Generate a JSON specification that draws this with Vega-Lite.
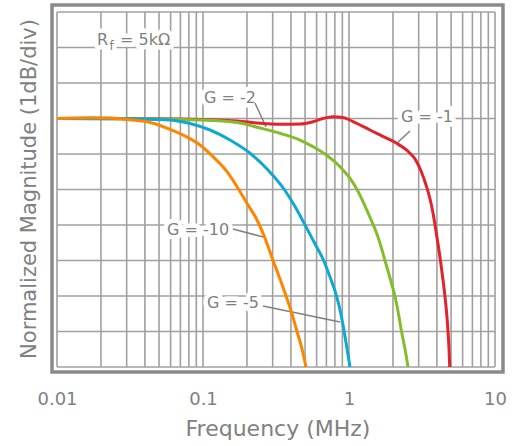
{
  "$schema": "https://vega.github.io/schema/vega-lite/v6.json",
  "width": 451,
  "height": 367,
  "autosize": {"type": "none"},
  "padding": {"left": 52, "top": 5, "right": 11, "bottom": 74},
  "background": "white",
  "config": {
    "view": {"stroke": "#8a8a8a", "strokeWidth": 3.5},
    "font": "DejaVu Sans",
    "axis": {"labelFont": "DejaVu Sans", "titleFont": "DejaVu Sans", "labelColor": "#808080", "titleColor": "#808080", "titleFontWeight": "normal", "grid": false, "ticks": false, "domain": false}
  },
  "datasets": {
    "vgrid": [{"f":0.01},{"f":0.02},{"f":0.03},{"f":0.04},{"f":0.05},{"f":0.06},{"f":0.07},{"f":0.08},{"f":0.09},{"f":0.1},{"f":0.2},{"f":0.3},{"f":0.4},{"f":0.5},{"f":0.6},{"f":0.7},{"f":0.8},{"f":0.9},{"f":1},{"f":2},{"f":3},{"f":4},{"f":5},{"f":6},{"f":7},{"f":8},{"f":9},{"f":10}],
    "hgrid": [{"db":-7},{"db":-6},{"db":-5},{"db":-4},{"db":-3},{"db":-2},{"db":-1},{"db":0},{"db":1},{"db":2},{"db":3}],
    "g1": [{"f":0.01,"db":0},{"f":0.04335,"db":-0.008},{"f":0.09539,"db":-0.028},{"f":0.1709,"db":-0.07},{"f":0.2457,"db":-0.135},{"f":0.3369,"db":-0.163},{"f":0.4619,"db":-0.155},{"f":0.5666,"db":-0.09},{"f":0.6636,"db":0},{"f":0.7768,"db":0.051},{"f":0.9097,"db":0.028},{"f":1.065,"db":-0.085},{"f":1.393,"db":-0.324},{"f":1.821,"db":-0.558},{"f":2.132,"db":-0.704},{"f":2.496,"db":-0.901},{"f":2.832,"db":-1.141},{"f":3.113,"db":-1.479},{"f":3.368,"db":-1.873},{"f":3.588,"db":-2.268},{"f":3.76,"db":-2.662},{"f":3.912,"db":-3.085},{"f":4.071,"db":-3.535},{"f":4.234,"db":-4.014},{"f":4.404,"db":-4.549},{"f":4.545,"db":-5.028},{"f":4.669,"db":-5.507},{"f":4.765,"db":-6.0},{"f":4.841,"db":-6.493},{"f":4.894,"db":-7.0}],
    "g2": [{"f":0.01,"db":0},{"f":0.04335,"db":-0.014},{"f":0.09539,"db":-0.042},{"f":0.1709,"db":-0.113},{"f":0.2457,"db":-0.268},{"f":0.3369,"db":-0.417},{"f":0.4619,"db":-0.606},{"f":0.5666,"db":-0.794},{"f":0.6849,"db":-1.0},{"f":0.868,"db":-1.358},{"f":1.016,"db":-1.69},{"f":1.134,"db":-2.0},{"f":1.287,"db":-2.465},{"f":1.437,"db":-2.915},{"f":1.58,"db":-3.338},{"f":1.764,"db":-4.0},{"f":1.909,"db":-4.493},{"f":2.066,"db":-5.014},{"f":2.183,"db":-5.507},{"f":2.289,"db":-6.0},{"f":2.418,"db":-6.493},{"f":2.536,"db":-7.0}],
    "g5": [{"f":0.01,"db":0},{"f":0.0197,"db":0.006},{"f":0.03162,"db":-0.006},{"f":0.04335,"db":-0.023},{"f":0.05943,"db":-0.042},{"f":0.08147,"db":-0.141},{"f":0.1117,"db":-0.324},{"f":0.1531,"db":-0.606},{"f":0.2132,"db":-1.0},{"f":0.2788,"db":-1.451},{"f":0.3644,"db":-2.028},{"f":0.4267,"db":-2.479},{"f":0.4918,"db":-2.944},{"f":0.5757,"db":-3.479},{"f":0.6699,"db":-4.0},{"f":0.7413,"db":-4.465},{"f":0.8211,"db":-5.0},{"f":0.868,"db":-5.394},{"f":0.9142,"db":-5.865},{"f":0.9643,"db":-6.428},{"f":1.016,"db":-7.0}],
    "g10": [{"f":0.01,"db":0},{"f":0.01683,"db":0.02},{"f":0.02307,"db":0.014},{"f":0.03162,"db":-0.037},{"f":0.04335,"db":-0.113},{"f":0.05943,"db":-0.304},{"f":0.07295,"db":-0.465},{"f":0.09539,"db":-0.746},{"f":0.1171,"db":-1.076},{"f":0.1461,"db":-1.499},{"f":0.1709,"db":-1.921},{"f":0.2001,"db":-2.389},{"f":0.2344,"db":-2.859},{"f":0.2659,"db":-3.375},{"f":0.3017,"db":-4.0},{"f":0.3369,"db":-4.521},{"f":0.3703,"db":-5.0},{"f":0.4071,"db":-5.507},{"f":0.4404,"db":-6.0},{"f":0.4767,"db":-6.493},{"f":0.5075,"db":-7.0}],
    "labels": [{"t":"R","f":0.01879,"db":2.211},{"t":"= 5kΩ","f":0.02701,"db":2.211},{"t":"G = -2","f":0.1016,"db":0.577},{"t":"G = -1","f":2.271,"db":0.042},{"t":"G = -10","f":0.05667,"db":-3.141},{"t":"G = -5","f":0.1065,"db":-5.197}],
    "subs": [{"t":"f","f":0.02289,"db":2.042}],
    "leaders": [{"f":0.2271,"db":0.437,"f2":0.27,"db2":-0.239},{"f":2.617,"db":-0.352,"f2":2.132,"db2":-0.69},{"f":0.1605,"db":-3.113,"f2":0.2576,"db2":-3.338},{"f":0.2576,"db":-5.282,"f2":0.868,"db2":-5.732}]
  },
  "layer": [
    {
      "data": {"name": "vgrid"},
      "mark": {"type": "rule", "color": "#a0a0a0", "strokeWidth": 1.6},
      "encoding": {
        "x": {"field": "f", "type": "quantitative", "scale": {"type": "log", "domain": [0.009242, 11.34], "nice": false, "zero": false},
              "axis": {"values": [0.01, 0.1, 1, 10], "format": "~g", "labelFontSize": 18, "labelPadding": 18, "labelFlush": false, "labelOverlap": false, "title": "Frequency (MHz)", "titleFontSize": 22, "titlePadding": 10}},
        "y": {"datum": -7, "type": "quantitative", "scale": {"domain": [-7.141, 3.197], "nice": false, "zero": false},
              "axis": {"labels": false, "title": "Normalized Magnitude (1dB/div)", "titleFontSize": 21, "titlePadding": 13}},
        "y2": {"datum": 3}
      }
    },
    {
      "data": {"name": "hgrid"},
      "mark": {"type": "rule", "color": "#a0a0a0", "strokeWidth": 1.6},
      "encoding": {
        "y": {"field": "db", "type": "quantitative", "scale": {"domain": [-7.141, 3.197], "nice": false, "zero": false},
              "axis": {"labels": false, "title": "Normalized Magnitude (1dB/div)", "titleFontSize": 21, "titlePadding": 13}},
        "x": {"datum": 0.01, "type": "quantitative", "scale": {"type": "log", "domain": [0.009242, 11.34], "nice": false, "zero": false},
              "axis": {"values": [0.01, 0.1, 1, 10], "format": "~g", "labelFontSize": 18, "labelPadding": 18, "labelFlush": false, "labelOverlap": false, "title": "Frequency (MHz)", "titleFontSize": 22, "titlePadding": 10}},
        "x2": {"datum": 10}
      }
    },
    {
      "data": {"name": "labels"},
      "mark": {"type": "text", "align": "left", "baseline": "middle", "fontSize": 16, "font": "DejaVu Sans", "fill": "white", "stroke": "white", "strokeWidth": 9, "strokeJoin": "round"},
      "encoding": {
        "x": {"field": "f", "type": "quantitative", "title": "Frequency (MHz)"},
        "y": {"field": "db", "type": "quantitative", "title": "Normalized Magnitude (1dB/div)"},
        "text": {"field": "t"}
      }
    },
    {
      "data": {"name": "subs"},
      "mark": {"type": "text", "align": "left", "baseline": "middle", "fontSize": 12, "font": "DejaVu Sans", "fill": "white", "stroke": "white", "strokeWidth": 9, "strokeJoin": "round"},
      "encoding": {
        "x": {"field": "f", "type": "quantitative", "title": "Frequency (MHz)"},
        "y": {"field": "db", "type": "quantitative", "title": "Normalized Magnitude (1dB/div)"},
        "text": {"field": "t"}
      }
    },
    {
      "data": {"name": "leaders"},
      "mark": {"type": "rule", "color": "#808080", "strokeWidth": 1.5},
      "encoding": {
        "x": {"field": "f", "type": "quantitative", "title": "Frequency (MHz)"},
        "y": {"field": "db", "type": "quantitative", "title": "Normalized Magnitude (1dB/div)"},
        "x2": {"field": "f2"},
        "y2": {"field": "db2"}
      }
    },
    {
      "data": {"name": "g1"},
      "mark": {"type": "line", "color": "#e2232b", "strokeWidth": 3, "interpolate": "monotone"},
      "encoding": {
        "x": {"field": "f", "type": "quantitative", "title": "Frequency (MHz)"},
        "y": {"field": "db", "type": "quantitative", "title": "Normalized Magnitude (1dB/div)"}
      }
    },
    {
      "data": {"name": "g2"},
      "mark": {"type": "line", "color": "#84bd2c", "strokeWidth": 3, "interpolate": "monotone"},
      "encoding": {
        "x": {"field": "f", "type": "quantitative", "title": "Frequency (MHz)"},
        "y": {"field": "db", "type": "quantitative", "title": "Normalized Magnitude (1dB/div)"}
      }
    },
    {
      "data": {"name": "g5"},
      "mark": {"type": "line", "color": "#0fa8d2", "strokeWidth": 3, "interpolate": "monotone"},
      "encoding": {
        "x": {"field": "f", "type": "quantitative", "title": "Frequency (MHz)"},
        "y": {"field": "db", "type": "quantitative", "title": "Normalized Magnitude (1dB/div)"}
      }
    },
    {
      "data": {"name": "g10"},
      "mark": {"type": "line", "color": "#ff8500", "strokeWidth": 3, "interpolate": "monotone"},
      "encoding": {
        "x": {"field": "f", "type": "quantitative", "title": "Frequency (MHz)"},
        "y": {"field": "db", "type": "quantitative", "title": "Normalized Magnitude (1dB/div)"}
      }
    },
    {
      "data": {"name": "labels"},
      "mark": {"type": "text", "align": "left", "baseline": "middle", "fontSize": 16, "font": "DejaVu Sans", "fill": "#808080"},
      "encoding": {
        "x": {"field": "f", "type": "quantitative", "title": "Frequency (MHz)"},
        "y": {"field": "db", "type": "quantitative", "title": "Normalized Magnitude (1dB/div)"},
        "text": {"field": "t"}
      }
    },
    {
      "data": {"name": "subs"},
      "mark": {"type": "text", "align": "left", "baseline": "middle", "fontSize": 12, "font": "DejaVu Sans", "fill": "#808080"},
      "encoding": {
        "x": {"field": "f", "type": "quantitative", "title": "Frequency (MHz)"},
        "y": {"field": "db", "type": "quantitative", "title": "Normalized Magnitude (1dB/div)"},
        "text": {"field": "t"}
      }
    }
  ]
}
